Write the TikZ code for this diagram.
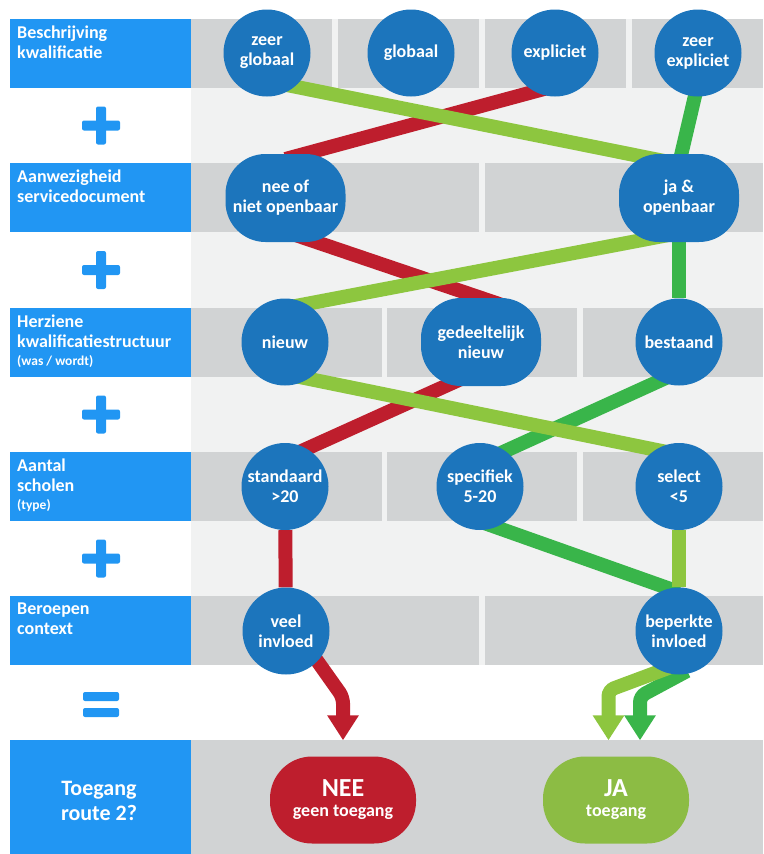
\documentclass[tikz,border=0pt]{standalone}
\usepackage{fontspec}
\setmainfont{Carlito}
\usepackage{xcolor}
\usetikzlibrary{arrows.meta}

\definecolor{kopblauw}{HTML}{2196F3}
\definecolor{bolblauw}{HTML}{1C75BC}
\definecolor{rijgrijs}{HTML}{D1D3D4}
\definecolor{achtergrond}{HTML}{F1F2F2}
\definecolor{rood}{HTML}{BE1E2D}
\definecolor{lichtgroen}{HTML}{8DC63F}
\definecolor{donkergroen}{HTML}{39B54A}
\definecolor{jagroen}{HTML}{8CBC44}

\pgfdeclarelayer{bg}
\pgfdeclarelayer{lijnen}
\pgfsetlayers{bg,lijnen,main}

\tikzset{
  rij/.style={fill=rijgrijs},
  kop/.style={fill=kopblauw},
  koptekst/.style={anchor=north west,inner sep=0pt,align=left,text=white,
    font=\bfseries\fontsize{18}{20}\selectfont},
  bol/.style={circle,fill=bolblauw,minimum size=87pt,inner sep=0pt,text=white,
    align=center,font=\bfseries\fontsize{18}{20}\selectfont},
  ovaal/.style={bol,rectangle,rounded corners=40pt,minimum width=120pt,minimum height=88pt},
  eind/.style={rectangle,rounded corners=42pt,minimum width=146pt,minimum height=87pt,
    inner sep=0pt,text=white,align=center,font=\bfseries\fontsize{18}{20}\selectfont},
  route/.style={line width=14pt},
  pijl/.style={route,rounded corners=6pt,-{Triangle[width=30pt,length=25pt]}}
}

\begin{document}
\begin{tikzpicture}[x=1pt,y=-1pt]
\useasboundingbox (0,0) rectangle (763,854);

\begin{pgfonlayer}{bg}
  \fill[achtergrond] (191,19) rectangle (763,665);
  \foreach \a/\b in {191/332,338/479,485/626,632/763}
    \fill[rij] (\a,19) rectangle (\b,88);
  \foreach \a/\b in {191/479,485/763} {
    \fill[rij] (\a,163) rectangle (\b,232);
    \fill[rij] (\a,596) rectangle (\b,665);
  }
  \foreach \a/\b in {191/382,387/577,583/763} {
    \fill[rij] (\a,308) rectangle (\b,377);
    \fill[rij] (\a,452) rectangle (\b,521);
  }
  \fill[rij] (191,740) rectangle (763,854);
  \foreach \t/\b in {19/88,163/232,308/377,452/521,596/665,740/854}
    \fill[kop] (10,\t) rectangle (191,\b);
  \foreach \y in {125.5,270,414.5,558.5} {
    \fill[kop,rounded corners=2pt] (82,\y-5) rectangle (120,\y+5);
    \fill[kop,rounded corners=2pt] (96,\y-19) rectangle (106,\y+19);
  }
  \fill[kop,rounded corners=2pt] (83,692) rectangle (119,701);
  \fill[kop,rounded corners=2pt] (83,708) rectangle (119,717);
\end{pgfonlayer}

\node[koptekst] (lbeschr) at (17,26) {Beschrijving\\kwalificatie};
\node[koptekst] (laanwez) at (17,170) {Aanwezigheid\\servicedocument};
\node[koptekst] (lherz) at (17,315) {Herziene\\kwalificatiestructuur\\[-2pt]{\fontsize{13.5}{16}\selectfont(was / wordt)}};
\node[koptekst] (laantal) at (17,459) {Aantal\\scholen\\[-2pt]{\fontsize{13.5}{16}\selectfont(type)}};
\node[koptekst] (lberoep) at (17,603) {Beroepen\\context};
\node[text=white,align=center,inner sep=0pt,font=\bfseries\fontsize{22}{25}\selectfont] (ltoegang) at (99,801) {Toegang\\route 2?};

\node[bol] (zeerglob) at (267,53) {zeer\\globaal};
\node[bol] (glob) at (411,53) {globaal};
\node[bol] (expl) at (555,53) {expliciet};
\node[bol] (zeerexpl) at (698,53) {zeer\\expliciet};

\node[ovaal] (neeopen) at (285.5,198) {nee of\\niet openbaar};
\node[ovaal] (jaopen) at (679,198) {ja \&\\openbaar};

\node[bol] (nieuw) at (285,342) {nieuw};
\node[ovaal] (gedeelt) at (481,342) {gedeeltelijk\\nieuw};
\node[bol] (bestaand) at (679,342) {bestaand};

\node[bol] (standaard) at (285,486.5) {standaard\\>20};
\node[bol] (specifiek) at (480,486.5) {specifiek\\5-20};
\node[bol] (select) at (679,486.5) {select\\<5};

\node[bol] (veel) at (286,631) {veel\\invloed};
\node[bol] (beperkt) at (679,631) {beperkte\\invloed};

\node[eind,fill=rood] (nee) at (343,800) {{\fontsize{26}{20}\selectfont NEE}\\geen toegang};
\node[eind,fill=jagroen] (ja) at (616,800) {{\fontsize{26}{20}\selectfont JA}\\toegang};

\begin{pgfonlayer}{lijnen}
  \draw[route,rood] ([yshift=-33pt]expl.center) -- ([yshift=39pt]neeopen.center);
  \draw[route,rood] ([xshift=10pt,yshift=-37pt]neeopen.center) -- ([xshift=24pt,yshift=36pt]gedeelt.center);
  \draw[route,rood] ([yshift=-28pt]gedeelt.center) -- ([yshift=28pt]standaard.center);
  \draw[route,rood] (standaard) -- (veel);
  \draw[pijl,rood] ([xshift=10pt]veel.center) -- ([yshift=59pt]nee.north) -- ([yshift=16pt]nee.north);

  \draw[route,donkergroen] ([yshift=-30pt]zeerexpl.center) -- ([yshift=34pt]jaopen.center);
  \draw[route,donkergroen] (jaopen) -- (bestaand);
  \draw[route,donkergroen] ([yshift=-30pt]bestaand.center) -- ([yshift=24pt]specifiek.center);
  \draw[route,donkergroen] ([yshift=-35pt]specifiek.center) -- ([yshift=39pt]beperkt.center);
  \draw[pijl,donkergroen] ([xshift=8pt,yshift=-40pt]beperkt.center) -- ([xshift=24pt,yshift=60pt]ja.north) -- ([xshift=24pt,yshift=16pt]ja.north);

  \draw[route,lichtgroen] ([yshift=-28pt]zeerglob.center) -- ([yshift=34pt]jaopen.center);
  \draw[route,lichtgroen] ([yshift=-35pt]jaopen.center) -- ([yshift=34pt]nieuw.center);
  \draw[route,lichtgroen] ([yshift=-32pt]nieuw.center) -- ([yshift=32pt]select.center);
  \draw[route,lichtgroen] (select) -- (beperkt);
  \draw[pijl,lichtgroen] ([yshift=-33pt]beperkt.center) -- ([xshift=-7.5pt,yshift=66pt]ja.north) -- ([xshift=-7.5pt,yshift=16pt]ja.north);
\end{pgfonlayer}
\end{tikzpicture}
\end{document}
